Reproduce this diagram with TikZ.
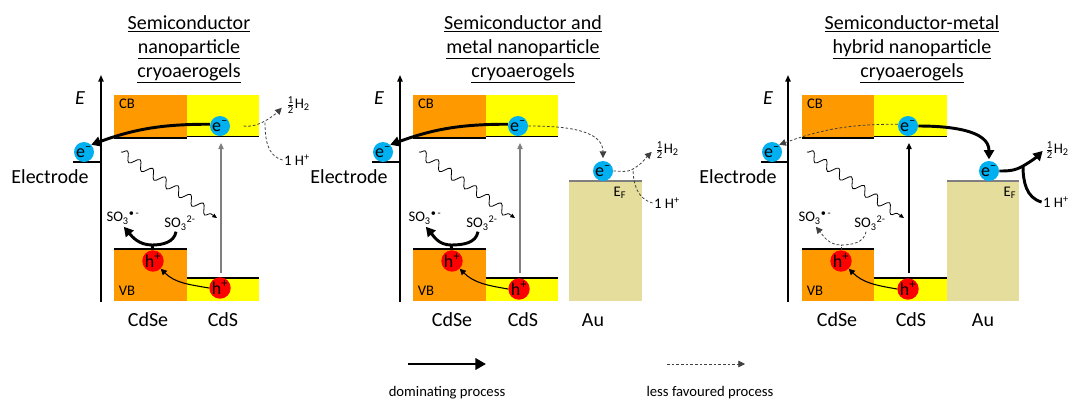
\documentclass[tikz,border=0pt]{standalone}
\usepackage{fontspec}
\setmainfont{Carlito}
\usetikzlibrary{arrows.meta,decorations.pathmorphing}
\definecolor{cdse}{HTML}{FF9900}
\definecolor{cds}{HTML}{FFFF00}
\definecolor{au}{HTML}{E4DD9B}
\definecolor{eblue}{HTML}{00B0F0}
\definecolor{hred}{HTML}{FF0000}
\definecolor{dgray}{HTML}{404040}
\definecolor{mgray}{HTML}{7F7F7F}
\newcommand\halfHH{$\frac{\mbox{\fontsize{8}{8}\selectfont 1}}{\mbox{\fontsize{8}{8}\selectfont 2}}$H\textsubscript{2}}
\newcommand\eminus{e\textsuperscript{\textendash}}
\newcommand\hplus{h\textsuperscript{+}}
\newcommand\sothree{SO\textsubscript{3}\textsuperscript{2-}}
\newcommand\sorad{SO\textsubscript{3}\textsuperscript{\textbullet\,-}}
\tikzset{
  elec/.style={circle, fill=eblue, minimum size=15pt, inner sep=0pt, font=\fontsize{13.5}{13.5}\selectfont},
  hole/.style={circle, fill=hred, minimum size=15pt, inner sep=0pt, font=\fontsize{13.5}{13.5}\selectfont},
  lbl/.style={font=\fontsize{15}{18}\selectfont, inner sep=1pt},
  ttl/.style={font=\fontsize{15}{18}\selectfont, align=center, inner sep=1pt},
  small/.style={font=\fontsize{11}{12}\selectfont, inner sep=1pt},
  leg/.style={font=\fontsize{11}{13}\selectfont, inner sep=1pt},
  band/.style={line width=1.1pt, black},
  auline/.style={line width=1.4pt, mgray},
  axisline/.style={line width=1.1pt, -{Triangle[length=5pt,width=4pt]}},
  domarrow/.style={line width=2.2pt, -{Triangle[length=7pt,width=7.5pt]}},
  domline/.style={line width=2.2pt},
  lessarrow/.style={line width=0.6pt, dgray, dash pattern=on 2pt off 1.5pt, -{Triangle[length=5pt,width=5pt]}},
  lessline/.style={line width=0.6pt, dgray, dash pattern=on 2pt off 1.5pt},
  thinarrow/.style={line width=0.8pt, -{Triangle[length=4.5pt,width=4.5pt]}},
  vert/.style={line width=0.9pt, -{Triangle[length=4.5pt,width=4pt]}},
  wavy/.style={line width=0.6pt, decorate, decoration={snake, amplitude=3.4pt, segment length=11.5pt, post length=3pt}, -{Triangle[length=3.5pt,width=3pt]}},
}
\begin{document}
\begin{tikzpicture}[x=0.75pt,y=-0.75pt]
\useasboundingbox (0,0) rectangle (1070,401);

% ===================== Panel 1 =====================
\fill[cdse] (114,95) rectangle (187,138);
\fill[cds] (187,95) rectangle (259,137);
\draw[band] (114,138) -- (187,138);
\draw[band] (187,136.5) -- (259,136.5);
\fill[cdse] (114,249) rectangle (187,301);
\fill[cds] (187,278) rectangle (259,301);
\draw[band] (114,249) -- (187,249);
\draw[band] (187,278) -- (259,278);
\coordinate (p1ab) at (101,302);
\coordinate (p1at) at (101,75);
\draw[axisline] (p1ab) -- (p1at);
\draw[line width=0.9pt] (73,162) -- (101,162);

\node[ttl] (p1title) at (189,49.5) {\underline{Semiconductor}\\\underline{nanoparticle}\\\underline{cryoaerogels}};
\node[lbl, font=\fontsize{15}{18}\selectfont\itshape] (p1E) at (80,98) {E};
\node[small] (p1CB) at (127,104) {CB};
\node[small] (p1VB) at (127,291) {VB};
\node[elec] (p1eCB) at (220,126) {\eminus};
\node[elec] (p1eEl) at (84,152) {\eminus};
\node[lbl] (p1El) at (50,177) {Electrode};
\node[hole] (p1hVB) at (153,261) {\hplus};
\node[hole] (p1hCdS) at (220,288) {\hplus};
\node[small] (p1so3r) at (123,218) {\sorad};
\node[small] (p1so3) at (180,223) {\sothree};
\node[lbl] (p1CdSe) at (148,320) {CdSe};
\node[lbl] (p1CdS) at (223,320) {CdS};
\node[small] (p1H2) at (298,105) {\halfHH};
\node[small] (p1H) at (297,160) {1 H\textsuperscript{+}};

\coordinate (p1ws) at (121,152);
\coordinate (p1we) at (217,218);
\draw[wavy] (p1ws) -- (p1we);
\coordinate (p1vb) at (221,273);
\coordinate (p1vt) at (221,143);
\draw[vert, mgray] (p1vb) -- (p1vt);

\draw[domarrow] (p1eCB.170) to[out=180,in=20] (p1eEl.north east);
\coordinate (p1j1) at (265,121);
\draw[lessarrow, shorten <=10pt, shorten >=3pt] (p1eCB.east) to[out=0,in=-150] (p1j1) to[out=30,in=-135] (p1H2.west);
\draw[lessline] (p1H.west) to[out=165,in=-90] (p1j1);
\coordinate (p1j2) at (152,245);
\draw[domarrow, shorten >=1pt] ([xshift=-3pt]p1so3.south) to[out=-100,in=0] (p1j2) to[out=180,in=-50] (p1so3r.south);
\draw[domline] (p1hVB.north) -- (p1j2);
\draw[thinarrow] (p1hCdS.west) to[out=170,in=-45] (p1hVB.south east);

% ===================== Panel 2 =====================
\fill[cdse] (413,95) rectangle (486,138);
\fill[cds] (486,95) rectangle (558,137);
\draw[band] (413,138) -- (486,138);
\draw[band] (486,136.5) -- (558,136.5);
\fill[cdse] (413,249) rectangle (486,301);
\fill[cds] (486,278) rectangle (558,301);
\draw[band] (413,249) -- (486,249);
\draw[band] (486,278) -- (558,278);
\fill[au] (569,181) rectangle (642,301);
\draw[auline] (569,181) -- (642,181);
\coordinate (p2ab) at (400,302);
\coordinate (p2at) at (400,75);
\draw[axisline] (p2ab) -- (p2at);
\draw[line width=0.9pt] (372,162) -- (400,162);

\node[ttl] (p2title) at (523,49.5) {\underline{Semiconductor and}\\\underline{metal nanoparticle}\\\underline{cryoaerogels}};
\node[lbl, font=\fontsize{15}{18}\selectfont\itshape] (p2E) at (379,98) {E};
\node[small] (p2CB) at (426,104) {CB};
\node[small] (p2VB) at (426,291) {VB};
\node[elec] (p2eCB) at (518,126) {\eminus};
\node[elec] (p2eEl) at (383,152) {\eminus};
\node[lbl] (p2El) at (349,177) {Electrode};
\node[hole] (p2hVB) at (452,261) {\hplus};
\node[hole] (p2hCdS) at (519,289) {\hplus};
\node[small] (p2so3r) at (425,218) {\sorad};
\node[small] (p2so3) at (482,223) {\sothree};
\node[lbl] (p2CdSe) at (452,320) {CdSe};
\node[lbl] (p2CdS) at (523,320) {CdS};
\node[lbl] (p2Au) at (593,320) {Au};
\node[small] (p2EF) at (620,193) {E\textsubscript{F}};
\node[elec] (p2eAu) at (603,171) {\eminus};
\node[small] (p2H2) at (667,150) {\halfHH};
\node[small] (p2H) at (667,203) {1 H\textsuperscript{+}};

\coordinate (p2ws) at (419,152);
\coordinate (p2we) at (515,218);
\draw[wavy] (p2ws) -- (p2we);
\coordinate (p2vb) at (520,273);
\coordinate (p2vt) at (520,143);
\draw[vert, mgray] (p2vb) -- (p2vt);

\draw[domarrow] (p2eCB.170) to[out=180,in=20] (p2eEl.north east);
\draw[lessarrow, shorten >=2pt] (p2eCB.east) to[out=0,in=90] (p2eAu.north);
\coordinate (p2j1) at (633,169);
\draw[lessarrow, shorten >=2pt] (p2eAu.east) to[out=0,in=-150] (p2j1) to[out=30,in=-135] (p2H2.west);
\draw[lessline] (p2H.west) to[out=165,in=-90] (p2j1);
\coordinate (p2j2) at (451,245);
\draw[domarrow, shorten >=1pt] ([xshift=-3pt]p2so3.south) to[out=-100,in=0] (p2j2) to[out=180,in=-50] (p2so3r.south);
\draw[domline] (p2hVB.north) -- (p2j2);
\draw[thinarrow] (p2hCdS.west) to[out=170,in=-45] (p2hVB.south east);

% ===================== Panel 3 =====================
\fill[cdse] (802,95) rectangle (874,138);
\fill[cds] (874,95) rectangle (947,137);
\draw[band] (802,138) -- (874,138);
\draw[band] (874,136.5) -- (947,136.5);
\fill[cdse] (802,249) rectangle (874,301);
\fill[cds] (874,278) rectangle (947,301);
\draw[band] (802,249) -- (874,249);
\draw[band] (874,278) -- (947,278);
\fill[au] (947,181) rectangle (1019,301);
\draw[auline] (947,181) -- (1019,181);
\coordinate (p3ab) at (788,302);
\coordinate (p3at) at (788,75);
\draw[axisline] (p3ab) -- (p3at);
\draw[line width=0.9pt] (761,162) -- (788,162);

\node[ttl] (p3title) at (912,49.5) {\underline{Semiconductor-metal}\\\underline{hybrid nanoparticle}\\\underline{cryoaerogels}};
\node[lbl, font=\fontsize{15}{18}\selectfont\itshape] (p3E) at (768,98) {E};
\node[small] (p3CB) at (815,104) {CB};
\node[small] (p3VB) at (815,291) {VB};
\node[elec] (p3eCB) at (908,126) {\eminus};
\node[elec] (p3eEl) at (772,152) {\eminus};
\node[lbl] (p3El) at (738,177) {Electrode};
\node[hole] (p3hVB) at (841,261) {\hplus};
\node[hole] (p3hCdS) at (908,289) {\hplus};
\node[small] (p3so3r) at (815,218) {\sorad};
\node[small] (p3so3) at (870,223) {\sothree};
\node[lbl] (p3CdSe) at (837,320) {CdSe};
\node[lbl] (p3CdS) at (911,320) {CdS};
\node[lbl] (p3Au) at (983,320) {Au};
\node[small] (p3EF) at (1010,193) {E\textsubscript{F}};
\node[elec] (p3eAu) at (989,171) {\eminus};
\node[small] (p3H2) at (1057,150) {\halfHH};
\node[small] (p3H) at (1056,202) {1 H\textsuperscript{+}};

\coordinate (p3ws) at (807,152);
\coordinate (p3we) at (904,218);
\draw[wavy] (p3ws) -- (p3we);
\coordinate (p3vb) at (909,273);
\coordinate (p3vt) at (909,143);
\draw[vert] (p3vb) -- (p3vt);

\draw[lessarrow] (p3eCB.170) to[out=180,in=20] (p3eEl.north east);
\draw[domarrow, shorten >=1pt] (p3eCB.east) to[out=0,in=90] (p3eAu.north);
\coordinate (p3j1) at (1023,166);
\draw[domarrow, shorten >=1pt] (p3eAu.east) to[out=0,in=-150] (p3j1) to[out=30,in=-135] (p3H2.west);
\draw[domline] (p3H.west) to[out=165,in=-90] (p3j1);
\coordinate (p3j2) at (841,245);
\draw[lessarrow, shorten >=1pt] ([xshift=-3pt]p3so3.south) to[out=-100,in=0] (p3j2) to[out=180,in=-50] (p3so3r.south);
\draw[lessline] (p3hVB.north) -- (p3j2);
\draw[thinarrow] (p3hCdS.west) to[out=170,in=-45] (p3hVB.south east);

% ===================== Legend =====================
\coordinate (lg1a) at (408,364);
\coordinate (lg1b) at (486,364);
\draw[line width=2.2pt, -{Triangle[length=8pt,width=8.5pt]}] (lg1a) -- (lg1b);
\coordinate (lg2a) at (667,364);
\coordinate (lg2b) at (745,364);
\draw[lessarrow] (lg2a) -- (lg2b);
\node[leg] (lg1t) at (447,393) {dominating process};
\node[leg] (lg2t) at (710,393) {less favoured process};
\end{tikzpicture}
\end{document}
